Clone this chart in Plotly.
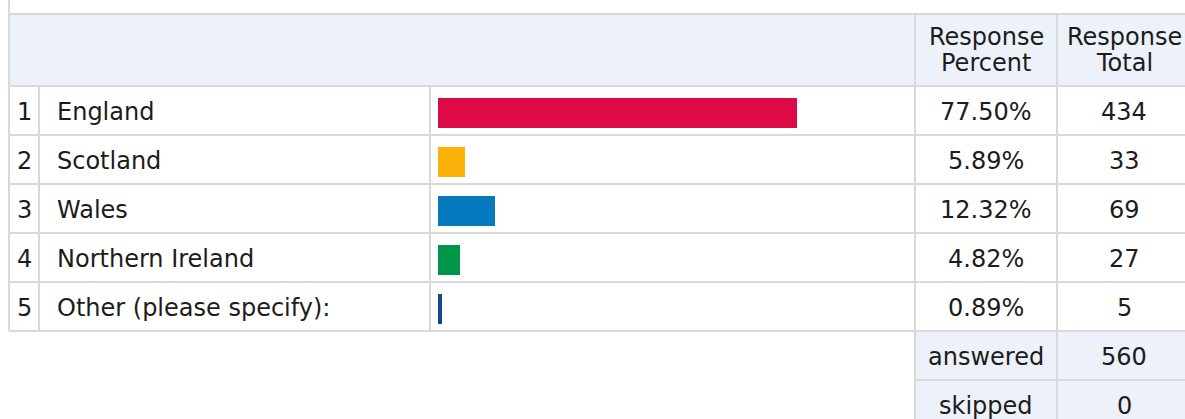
import plotly.graph_objects as go

# ---- data ----
ranks = [1, 2, 3, 4, 5]
choices = ["England", "Scotland", "Wales", "Northern Ireland", "Other (please specify):"]
percents = [77.50, 5.89, 12.32, 4.82, 0.89]
totals = [434, 33, 69, 27, 5]
answered = 560
skipped = 0
header_percent = ["Response", "Percent"]
header_total = ["Response", "Total"]
bar_colors = ["#DC0A45", "#FBB107", "#0779BF", "#00964A", "#15458A"]

# ---- layout geometry (screen pixels) ----
W, H = 1185, 419
OFF = 0
FONT = "DejaVu Sans"
FS = 24
TXT = "#1c1c1c"
GRID = "#D9D9D9"
HEAD_BG = "#EDF1F9"

x_left, x_num, x_lab, x_pct, x_tot, x_right = 9, 39, 430, 915, 1057, 1197
y_top, y_head = 14, 86
row_h = 49
n = len(choices)
row_lines = [y_head + row_h * (i + 1) for i in range(n)]
y_tab_bot = row_lines[-1]
y_ans = y_tab_bot + row_h

bar_x0 = 438
bar_px_100 = 463

fig = go.Figure()

fig.add_trace(go.Bar(
    x=percents, y=choices, orientation="h",
    marker=dict(color=bar_colors, line=dict(width=0)),
    width=30 / row_h,
    xaxis="x2", yaxis="y2", hoverinfo="skip", showlegend=False,
))

shapes = []
def rect(x0, y0, x1, y1, color):
    shapes.append(dict(type="rect", xref="x", yref="y", x0=x0, y0=y0, x1=x1, y1=y1,
                       fillcolor=color, line=dict(width=0), layer="below"))
def line(x0, y0, x1, y1):
    shapes.append(dict(type="line", xref="x", yref="y", x0=x0, y0=y0, x1=x1, y1=y1,
                       line=dict(color=GRID, width=2), layer="above"))

rect(x_left, y_top, x_right, y_head, HEAD_BG)
rect(x_pct, y_tab_bot, x_right, H + 40, HEAD_BG)

line(x_left, y_top, x_right, y_top)
line(x_left, y_head, x_right, y_head)
for yl in row_lines:
    line(x_left, yl, x_right, yl)
line(x_pct, y_ans, x_right, y_ans)

line(x_left, -20, x_left, y_tab_bot)
line(x_num, y_head, x_num, y_tab_bot)
line(x_lab, y_head, x_lab, y_tab_bot)
line(x_pct, y_top, x_pct, H + 40)
line(x_tot, y_top, x_tot, H + 40)

ann = []
def text(x, y, s, xanchor="center"):
    ann.append(dict(x=x, y=y, xref="x", yref="y", text=s, showarrow=False,
                    xanchor=xanchor, yanchor="middle",
                    font=dict(family=FONT, size=FS, color=TXT)))

c_pct = (x_pct + x_tot) / 2
c_tot = (x_tot + x_right) / 2 - 3
c_num = (x_left + x_num) / 2

text(c_pct, 37, header_percent[0]); text(c_pct, 63, header_percent[1])
text(c_tot, 37, header_total[0]); text(c_tot, 63, header_total[1])

for i in range(n):
    yc = y_head + row_h * i + row_h / 2 + 1
    text(c_num, yc, str(ranks[i]))
    text(x_num + 16, yc, choices[i], xanchor="left")
    text(c_pct, yc, f"{percents[i]:.2f}%")
    text(c_tot, yc, str(totals[i]))

yc = y_tab_bot + row_h / 2 + 1
text(c_pct, yc, "answered"); text(c_tot, yc, str(answered))
yc = y_ans + row_h / 2 + 1
text(c_pct, yc, "skipped"); text(c_tot, yc, str(skipped))

fig.update_layout(
    width=W, height=H,
    margin=dict(l=0, r=0, t=0, b=0),
    paper_bgcolor="white", plot_bgcolor="rgba(0,0,0,0)",
    shapes=shapes, annotations=ann,
    xaxis=dict(range=[OFF, OFF + W], visible=False, fixedrange=True, domain=[0, 1]),
    yaxis=dict(range=[OFF + H, OFF], visible=False, fixedrange=True, domain=[0, 1]),
    xaxis2=dict(range=[0, 100], visible=False, fixedrange=True, anchor="y2",
                domain=[(bar_x0 - OFF) / W, (bar_x0 - OFF + bar_px_100) / W]),
    yaxis2=dict(visible=False, fixedrange=True, anchor="x2", autorange="reversed",
                categoryorder="array", categoryarray=choices,
                domain=[1 - (y_tab_bot + 1.5 - OFF) / H, 1 - (y_head + 1.5 - OFF) / H]),
    bargap=0,
)

fig.write_html(
    "out.html",
    config={"displayModeBar": False},
    post_script="document.body.style.margin='0';document.body.style.overflow='hidden';",
)
